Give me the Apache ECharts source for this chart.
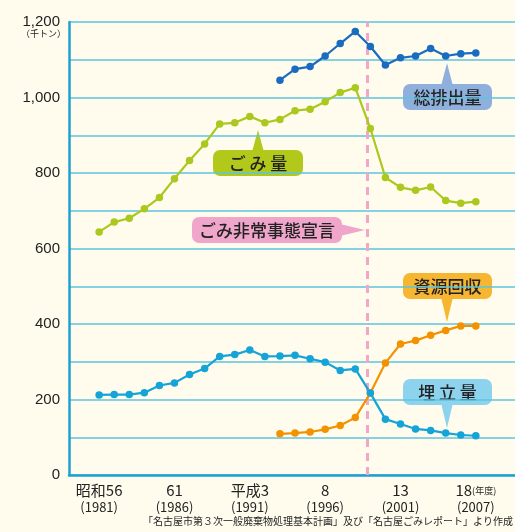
<!DOCTYPE html>
<html>
<head>
<meta charset="utf-8">
<script src="https://cdn.jsdelivr.net/npm/echarts@6/dist/echarts.min.js"></script>
<style>
  html, body { margin: 0; padding: 0; background: #fffcee; }
  #main { width: 515px; height: 532px; }
</style>
</head>
<body>
<div id="main"></div>
<script>
// 年度
const years = [1981, 1982, 1983, 1984, 1985, 1986, 1987, 1988, 1989, 1990,
  1991, 1992, 1993, 1994, 1995, 1996, 1997, 1998, 1999, 2000,
  2001, 2002, 2003, 2004, 2005, 2006];
// 千トン
const gomiRyo = [644, 670, 680, 705, 735, 785, 833, 877, 930, 933,
  950, 933, 942, 965, 969, 989, 1013, 1026, 918, 788,
  762, 754, 763, 727, 720, 724];
const souHaishutsu = [null, null, null, null, null, null, null, null, null, null,
  null, null, 1046, 1075, 1082, 1110, 1143, 1175, 1135, 1086,
  1105, 1110, 1130, 1110, 1116, 1118];
const umetate = [212, 213, 213, 218, 237, 244, 266, 282, 314, 319,
  331, 314, 315, 317, 308, 299, 277, 281, 217, 148,
  135, 122, 118, 111, 106, 104];
const shigen = [null, null, null, null, null, null, null, null, null, null,
  null, null, 109, 111, 114, 121, 131, 152, 217, 297,
  347, 356, 370, 383, 395, 395];
// x軸ラベル
const tickYears = [1981, 1986, 1991, 1996, 2001, 2006];
const tickTop = ['昭和56', '61', '平成3', '8', '13', '18'];
const tickBottom = ['(1981)', '(1986)', '(1991)', '(1996)', '(2001)', '(2007)'];
// 非常事態宣言（1999年2月）
const declareX = 1998.78;

const fontJP = '"Noto Sans CJK JP", "Noto Sans", sans-serif';

function pairs(vals) {
  return years.map((y, i) => [y, vals[i]]);
}

function lineSeries(name, vals, color) {
  return {
    name: name,
    type: 'line',
    data: pairs(vals),
    symbol: 'circle',
    symbolSize: 7.5,
    lineStyle: { color: color, width: 2.2 },
    itemStyle: { color: color },
    connectNulls: false,
    z: 3
  };
}

// 吹き出し
function balloon(x, y, w, h, fill, text, tri) {
  return {
    type: 'group',
    children: [
      { type: 'polygon', shape: { points: tri }, style: { fill: fill } },
      { type: 'rect', shape: { x: x, y: y, width: w, height: h, r: 7 }, style: { fill: fill } },
      {
        type: 'text', x: x + w / 2, y: y + h / 2 + 1,
        style: {
          text: text, fill: '#222', font: '500 17px ' + fontJP,
          textAlign: 'center', textVerticalAlign: 'middle'
        }
      }
    ]
  };
}

const chart = echarts.init(document.getElementById('main'));

const option = {
  backgroundColor: '#fffcee',
  animation: false,
  grid: { left: 69, right: 0, top: 22, bottom: 57 },
  xAxis: {
    type: 'value',
    min: 1979,
    max: 2008.6,
    interval: 1,
    splitLine: { show: false },
    axisTick: { show: false },
    axisLine: { show: true, lineStyle: { color: '#1ea0d2', width: 2.5 } },
    axisLabel: {
      margin: 7,
      showMaxLabel: false,
      formatter: function (v) {
        const i = tickYears.indexOf(v);
        if (i < 0) return '';
        if (i === tickYears.length - 1) {
          return '{t|' + tickTop[i] + '}{u|(年度)}\n{b|' + tickBottom[i] + '}';
        }
        return '{t|' + tickTop[i] + '}\n{b|' + tickBottom[i] + '}';
      },
      rich: {
        t: { fontSize: 15, color: '#222', fontFamily: fontJP, lineHeight: 17 },
        u: { fontSize: 9, color: '#222', fontFamily: fontJP, lineHeight: 17 },
        b: { fontSize: 13, color: '#222', fontFamily: fontJP, lineHeight: 17 }
      }
    }
  },
  yAxis: {
    type: 'value',
    min: 0,
    max: 1200,
    interval: 100,
    axisLine: { show: true, lineStyle: { color: '#1ea0d2', width: 2.5 } },
    axisTick: { show: false },
    splitLine: { lineStyle: { color: '#5cc5df', width: 1.5 } },
    axisLabel: {
      margin: 9,
      color: '#222',
      fontSize: 15,
      fontFamily: '"Liberation Sans", sans-serif',
      formatter: function (v) {
        if (v % 200 !== 0) return '';
        return v >= 1000 ? Math.floor(v / 1000) + ',' + String(v % 1000).padStart(3, '0') : String(v);
      }
    }
  },
  series: [
    Object.assign(lineSeries('ごみ量', gomiRyo, '#aac81e'), {
      markLine: {
        silent: true,
        symbol: 'none',
        label: { show: false },
        lineStyle: { color: '#f4a6c8', type: [8, 6], width: 3 },
        data: [{ xAxis: declareX }],
        z: 1
      }
    }),
    lineSeries('総排出量', souHaishutsu, '#1a6cc0'),
    lineSeries('資源回収', shigen, '#f39200'),
    lineSeries('埋立量', umetate, '#14a4d8')
  ],
  graphic: [
    {
      type: 'text', left: 21, top: 29,
      style: { text: '（千トン）', fill: '#222', font: '9px ' + fontJP }
    },
    balloon(403, 84, 89, 26, '#8fb0dd', '総排出量',
      [[441, 86], [453, 86], [447, 63]]),
    balloon(213, 150, 90, 26, '#b2c91c', 'ご み 量',
      [[252, 152], [264, 152], [258, 130]]),
    balloon(192, 217, 150, 26, '#f0a6cb', 'ごみ非常事態宣言',
      [[340, 224], [340, 236], [365, 230]]),
    balloon(403, 273, 89, 26, '#f6b632', '資源回収',
      [[441, 297], [453, 297], [447, 322]]),
    balloon(403, 379, 89, 26, '#8ed3ee', '埋 立 量',
      [[441, 403], [453, 403], [447, 428]]),
    {
      type: 'text', right: 2, top: 516,
      style: {
        text: '「名古屋市第３次一般廃棄物処理基本計画」及び「名古屋ごみレポート」より作成',
        fill: '#222', font: '10px ' + fontJP
      }
    }
  ]
};

chart.setOption(option);
</script>
</body>
</html>
